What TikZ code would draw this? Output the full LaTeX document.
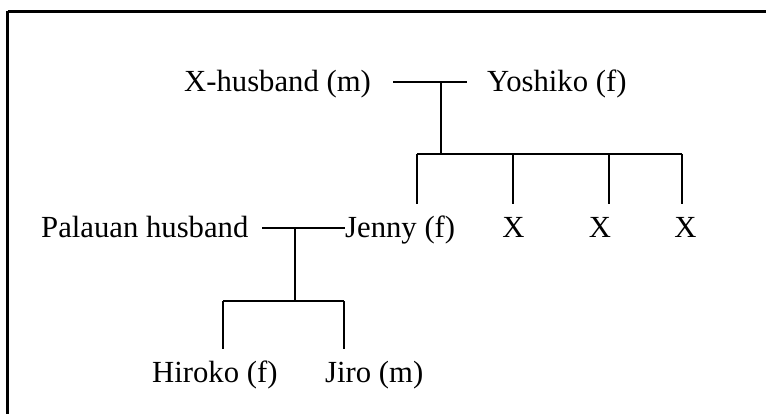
\documentclass[tikz,border=0pt]{standalone}
\usepackage{fontspec}
\setmainfont{Liberation Serif}
\begin{document}
\begin{tikzpicture}[x=1pt,y=-1pt,
  person/.style={anchor=base west,inner sep=0pt,font=\fontsize{30.7}{36}\selectfont},
  xchild/.style={anchor=base,inner sep=0pt,font=\fontsize{30.7}{36}\selectfont},
  tie/.style={line width=2.8pt},
  frame/.style={line width=3.2pt}]
\useasboundingbox (0,0) rectangle (766,414);
\begin{scope}
\clip (0,0) rectangle (766,414);
% outer frame, running past the right and bottom edges
\draw[frame] (7.5,11.5) -- (800,11.5);
\draw[frame] (7.5,11.5) -- (7.5,450);
\end{scope}

% first generation
\node[person] (xh) at (184,92) {X-husband (m)};
\node[person] (yo) at (487,92) {Yoshiko (f)};
\coordinate (m1l) at (393,82);
\coordinate (m1r) at (467,82);
\coordinate (m1)  at (441,82);
\coordinate (s1)  at (441,154);
\coordinate (b1a) at (417,154);
\coordinate (b1b) at (513,154);
\coordinate (b1c) at (609,154);
\coordinate (b1d) at (682,154);
\coordinate (d1a) at (417,204);
\coordinate (d1b) at (513,204);
\coordinate (d1c) at (609,204);
\coordinate (d1d) at (682,204);
\draw[tie] (m1l) -- (m1r);
\draw[tie] (m1) -- (s1);
\draw[tie] (b1a) -- (b1d);
\foreach \p in {a,b,c,d} \draw[tie] (b1\p) -- (d1\p);

% second generation
\node[person] (ph) at (41,238) {Palauan husband};
\node[person] (je) at (345,238) {Jenny (f)};
\node[xchild] (x1) at (513.5,238) {X};
\node[xchild] (x2) at (600,238) {X};
\node[xchild] (x3) at (685.5,238) {X};
\coordinate (m2l) at (262,228);
\coordinate (m2r) at (345,228);
\coordinate (m2)  at (295,228);
\coordinate (s2)  at (295,301);
\coordinate (b2a) at (223,301);
\coordinate (b2b) at (344,301);
\coordinate (d2a) at (223,349);
\coordinate (d2b) at (344,349);
\draw[tie] (m2l) -- (m2r);
\draw[tie] (m2) -- (s2);
\draw[tie] (b2a) -- (b2b);
\draw[tie] (b2a) -- (d2a);
\draw[tie] (b2b) -- (d2b);

% third generation
\node[person] (hi) at (152,382) {Hiroko (f)};
\node[person] (ji) at (325,382) {Jiro (m)};
\end{tikzpicture}
\end{document}
